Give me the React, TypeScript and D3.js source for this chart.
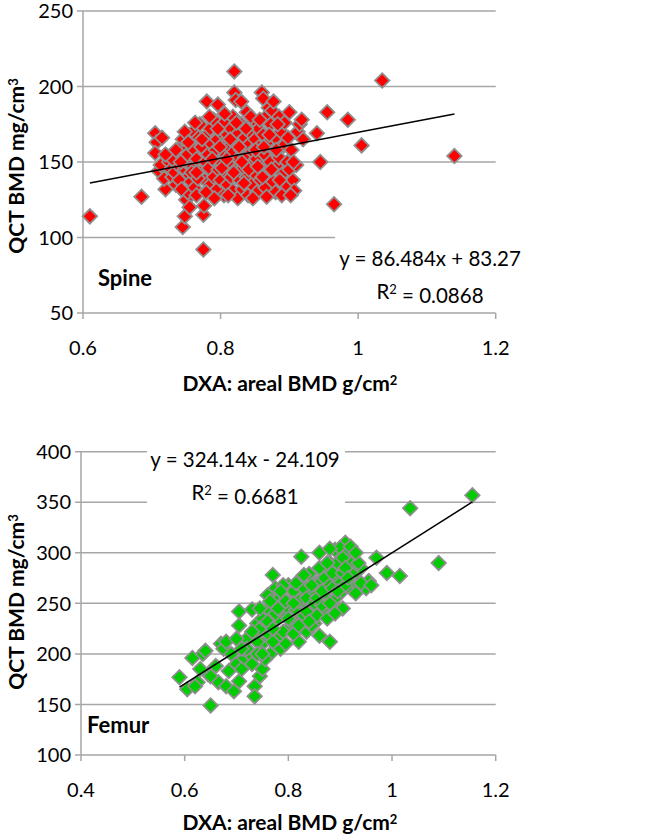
import React from "react";
import * as d3 from "d3";

// ---------- DATA ----------
const spineX = [
  0.705,0.707,0.715,0.705,0.71,0.72,0.713,0.718,
  0.725,0.728,0.73,0.733,0.735,0.738,0.74,0.74,0.742,0.745,0.745,0.748,0.75,0.752,0.755,0.73,
  0.748,0.75,0.752,0.755,0.757,0.758,0.76,0.76,0.762,0.762,0.765,0.765,0.768,
  0.77,0.77,0.772,0.775,0.775,0.776,0.777,0.778,0.78,0.78,0.782,0.783,0.785,0.785,0.787,
  0.79,0.79,0.792,0.793,0.795,0.795,0.797,0.8,0.8,0.8,0.803,0.805,0.805,0.807,0.808,
  0.81,0.81,0.812,0.813,0.815,0.815,0.817,0.818,0.818,0.82,0.82,0.822,0.82,0.822,0.825,0.825,0.826,0.828,
  0.83,0.83,0.832,0.833,0.835,0.836,0.838,0.838,0.84,0.84,0.842,0.843,0.845,0.846,
  0.848,0.85,0.85,0.852,0.853,0.855,0.856,0.858,0.86,0.862,0.86,0.862,0.864,0.865,0.866,
  0.868,0.87,0.87,0.872,0.873,0.875,0.876,0.878,0.88,0.88,0.882,0.885,
  0.885,0.888,0.89,0.892,0.895,0.897,0.9,0.9,0.903,0.905,0.907,0.91,0.912,0.915,0.918,0.92,
  0.61,0.685,0.94,0.945,0.955,0.965,0.985,1.005,1.035,1.14,
  0.735,0.742,0.748,0.753,0.758,0.763,0.767,0.773,0.779,0.784,0.788,0.791,0.796,0.799,0.802,0.806,0.809,
  0.811,0.814,0.819,0.823,0.827,0.831,0.834,0.837,0.841,0.844,0.847,0.851,0.854,0.857,0.861,0.863,0.867,
  0.871,0.874,0.877,0.881,0.886,0.889,0.893,0.898,0.902,0.906,0.883,0.796,0.83,0.765,0.743,0.72
];
const spineY = [
  169,163,166,156,144,132,148,139,
  150,145,140,143,135,148,138,157,160,165,107,114,125,130,120,152,
  145,150,155,141,137,162,170,147,158,133,128,152,166,
  175,143,160,92,115,121,138,150,190,168,155,146,172,135,162,
  178,140,152,158,132,165,145,170,150,138,160,176,128,155,143,
  168,135,160,149,172,140,156,180,131,210,196,191,164,145,126,152,169,138,
  175,158,132,146,166,153,140,183,161,128,170,148,135,157,
  178,165,142,152,130,172,160,138,196,192,147,168,155,133,180,
  162,186,143,150,175,184,137,158,166,130,147,153,
  180,170,142,161,134,150,183,145,158,138,131,148,170,175,178,165,
  114,127,169,150,183,122,178,161,204,154,
  158,150,170,163,143,176,139,165,130,180,152,126,172,160,146,182,152,
  128,165,143,176,160,150,136,172,145,180,126,158,147,178,140,160,127,
  168,145,190,158,138,128,176,166,128,150,175,188,190,143,132,155
];

const femurX = [
  0.59,0.605,0.615,0.625,0.635,0.64,0.645,0.65,0.66,0.665,0.67,0.675,0.68,0.685,0.695,0.7,0.705,0.705,0.705,
  0.715,0.72,0.725,0.73,0.735,0.735,0.74,0.745,0.75,0.75,0.755,0.76,0.765,0.77,0.77,0.775,0.78,0.78,0.785,
  0.79,0.795,0.8,0.8,0.805,0.81,0.815,0.82,0.82,0.825,0.825,0.83,0.835,0.84,0.84,0.845,0.85,0.855,0.86,0.86,
  0.865,0.87,0.875,0.88,0.88,0.885,0.89,0.895,0.9,0.9,0.905,0.91,0.915,0.92,0.925,0.93,0.94,0.95,0.955,0.97,
  0.99,1.015,1.035,1.09,1.155,
  0.72,0.73,0.74,0.745,0.75,0.755,0.76,0.765,0.77,0.775,0.78,0.785,0.79,0.79,0.795,0.8,0.805,0.81,0.81,0.815,
  0.82,0.825,0.83,0.83,0.835,0.84,0.845,0.85,0.85,0.855,0.86,0.865,0.87,0.87,0.875,0.88,0.885,0.89,0.89,0.895,
  0.9,0.9,0.905,0.91,0.915,0.92,0.925,0.93,0.935,0.94,0.96,0.86,0.88,0.92,0.76,0.74,0.71,0.69,0.68,0.65,0.63,0.62,
  0.7,0.71,0.73,0.745,0.75,0.76,0.765,0.77,0.78,0.785,0.795,0.8,0.81,0.815,0.82,0.83,0.835,0.84,0.845,0.855,
  0.86,0.865,0.875,0.88,0.885,0.895,0.905,0.91,0.915,0.93
];
const femurY = [
  177,165,196,172,200,203,180,149,188,172,210,205,168,183,163,190,173,242,228,
  196,215,200,244,168,158,230,178,185,210,240,220,200,278,250,265,235,215,205,
  255,240,225,268,248,232,258,212,238,296,270,250,222,279,262,242,230,270,255,218,
  282,240,264,212,290,250,303,275,260,293,245,310,285,265,300,270,285,265,272,295,
  280,277,344,290,357,
  205,190,212,225,235,195,245,228,212,240,258,248,222,268,210,245,232,262,220,244,
  252,230,265,238,255,245,228,262,250,238,270,248,260,275,235,268,280,255,240,290,
  270,305,280,268,300,290,278,260,290,270,268,300,304,306,258,200,205,200,212,178,185,168,
  215,185,222,245,200,232,252,225,245,262,252,235,250,270,228,278,242,232,268,255,
  285,262,290,250,265,262,295,285,275,300
];

const spineXTicks = [0.6, 0.8, 1, 1.2];
const spineYTicks = [50, 100, 150, 200, 250];
const femurXTicks = [0.4, 0.6, 0.8, 1, 1.2];
const femurYTicks = [100, 150, 200, 250, 300, 350, 400];

const spineFit = { slope: 86.484, intercept: 83.27 };
const femurFit = { slope: 324.14, intercept: -24.109 };

const FONT = "Lato, 'Liberation Sans', sans-serif";
const GRID = "#a6a6a6";

type PanelProps = {
  xs: number[]; ys: number[];
  xDomain: [number, number]; yDomain: [number, number];
  xRange: [number, number]; yRange: [number, number];
  xTicks: number[]; yTicks: number[];
  fit: { slope: number; intercept: number };
  fill: string;
  label: string; labelPos: [number, number];
  eq1: string; eq2: string; eqPos: [number, number];
  box: [number, number, number, number];
  yTitleCenter: number; xTitleY: number; xTickY: number;
};

function Panel(p: PanelProps) {
  const x = d3.scaleLinear().domain(p.xDomain).range(p.xRange);
  const y = d3.scaleLinear().domain(p.yDomain).range(p.yRange);
  const sym = d3.symbol().type(d3.symbolSquare).size(105)();
  const xMin = d3.min(p.xs) as number;
  const xMax = d3.max(p.xs) as number;
  const line = d3.line<number>().x((d) => x(d)).y((d) => y(p.fit.slope * d + p.fit.intercept));
  const [x0, x1] = p.xRange;
  const [yb, yt] = p.yRange;
  return (
    <g>
      {p.yTicks.map((t) => (
        <g key={"g" + t}>
          <line x1={x0 - 6} x2={x1} y1={y(t)} y2={y(t)} stroke={GRID} strokeWidth={1.5} />
          <text x={x0 - 10} y={y(t)} dy="0.36em" textAnchor="end" fontFamily={FONT} fontSize={20} fill="#000">{t}</text>
        </g>
      ))}
      <line x1={x0} x2={x0} y1={yt} y2={yb} stroke={GRID} strokeWidth={1.5} />
      {p.xTicks.map((t) => (
        <g key={"x" + t}>
          <line x1={x(t)} x2={x(t)} y1={yb} y2={yb + 6} stroke={GRID} strokeWidth={1.5} />
          <text x={x(t)} y={p.xTickY} dy="0.36em" textAnchor="middle" fontFamily={FONT} fontSize={20} fill="#000">{t}</text>
        </g>
      ))}
      <rect x={p.box[0]} y={p.box[1]} width={p.box[2]} height={p.box[3]} fill="#fff" />
      {p.xs.map((d, i) => (
        <path key={i} d={sym} transform={`translate(${x(d)},${y(p.ys[i])}) rotate(45)`} fill={p.fill} stroke="#8f8f8f" strokeWidth={1.8} />
      ))}
      <path d={line([xMin, xMax]) || ""} stroke="#000" strokeWidth={1.5} fill="none" />
      <text x={p.eqPos[0]} y={p.eqPos[1]} dy="0.36em" textAnchor="middle" fontFamily={FONT} fontSize={20.5} fill="#000">{p.eq1}</text>
      <text x={p.eqPos[0]} y={p.eqPos[1] + 33} dy="0.36em" textAnchor="middle" fontFamily={FONT} fontSize={20.5} fill="#000">
        R<tspan dy="-0.45em" fontSize={13}>2</tspan><tspan dy="0.45em"> = {p.eq2}</tspan>
      </text>
      <text x={p.labelPos[0]} y={p.labelPos[1]} fontFamily={FONT} fontSize={22} fontWeight="bold" fill="#000">{p.label}</text>
      <text transform={`translate(16,${p.yTitleCenter}) rotate(-90)`} dy="0.36em" textAnchor="middle" fontFamily={FONT} fontSize={21} fontWeight="bold" fill="#000">
        QCT BMD mg/cm<tspan dy="-0.45em" fontSize={13}>3</tspan>
      </text>
      <text x={290} y={p.xTitleY} dy="0.36em" textAnchor="middle" fontFamily={FONT} fontSize={21} fontWeight="bold" fill="#000">
        DXA: areal BMD g/cm<tspan dy="-0.45em" fontSize={13}>2</tspan>
      </text>
    </g>
  );
}

export default function App() {
  return (
    <svg width={646} height={838} style={{ position: "absolute", left: 0, top: 0, background: "#fff" }}>
      <rect width={646} height={838} fill="#fff" />
      <Panel
        xs={spineX} ys={spineY}
        xDomain={[0.6, 1.2]} yDomain={[50, 250]}
        xRange={[83, 495.7]} yRange={[313, 11]}
        xTicks={spineXTicks} yTicks={spineYTicks}
        fit={spineFit} fill="#ff0000"
        label="Spine" labelPos={[98, 286]}
        eq1="y = 86.484x + 83.27" eq2="0.0868" eqPos={[430, 259]}
        box={[335, 236, 190, 70]}
        yTitleCenter={166} xTitleY={383} xTickY={348}
      />
      <Panel
        xs={femurX} ys={femurY}
        xDomain={[0.4, 1.2]} yDomain={[100, 400]}
        xRange={[81, 495.7]} yRange={[755, 451.7]}
        xTicks={femurXTicks} yTicks={femurYTicks}
        fit={femurFit} fill="#00cc00"
        label="Femur" labelPos={[87, 733]}
        eq1="y = 324.14x - 24.109" eq2="0.6681" eqPos={[245, 460]}
        box={[147, 440, 198, 70]}
        yTitleCenter={602} xTitleY={822} xTickY={790}
      />
    </svg>
  );
}
